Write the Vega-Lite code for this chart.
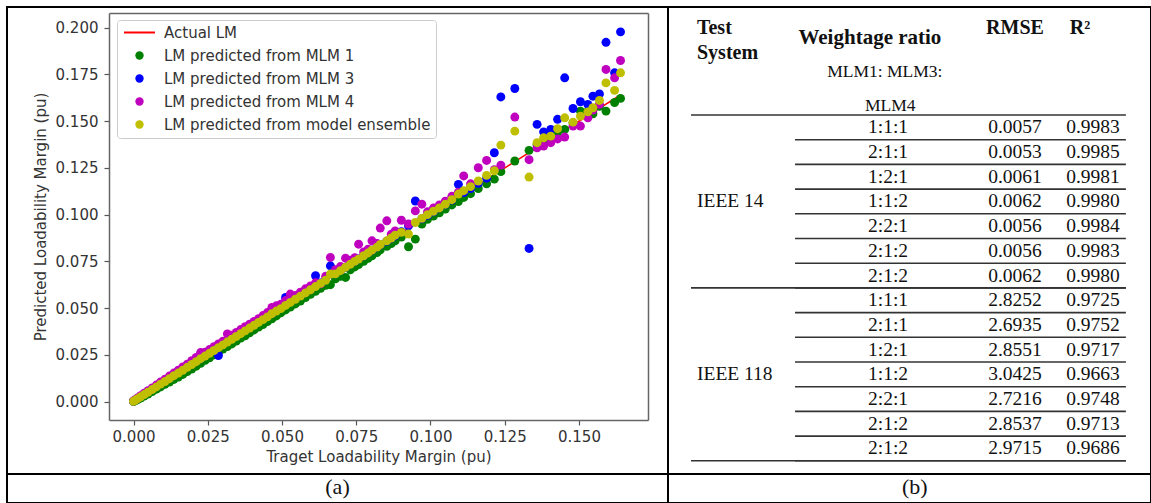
{
  "$schema": "https://vega.github.io/schema/vega-lite/v6.json",
  "background": "white",
  "padding": {"left": 6, "top": 6, "right": 0, "bottom": 0},
  "columns": 2,
  "spacing": 0,
  "bounds": "flush",
  "resolve": {"scale": {"color": "independent"}, "legend": {"color": "independent"}},
  "datasets": {
    "scatter": [
      {"target": 0.0000, "actual": 0.0000, "mlm1": 0.0000, "mlm3": 0.0002, "mlm4": 0.0003, "ensemble": 0.0001},
      {"target": 0.0006, "actual": 0.0006, "mlm1": 0.0004, "mlm3": 0.0008, "mlm4": 0.0010, "ensemble": 0.0007},
      {"target": 0.0014, "actual": 0.0014, "mlm1": 0.0010, "mlm3": 0.0016, "mlm4": 0.0019, "ensemble": 0.0015},
      {"target": 0.0024, "actual": 0.0024, "mlm1": 0.0018, "mlm3": 0.0027, "mlm4": 0.0031, "ensemble": 0.0025},
      {"target": 0.0036, "actual": 0.0036, "mlm1": 0.0029, "mlm3": 0.0039, "mlm4": 0.0044, "ensemble": 0.0037},
      {"target": 0.0049, "actual": 0.0049, "mlm1": 0.0040, "mlm3": 0.0052, "mlm4": 0.0058, "ensemble": 0.0050},
      {"target": 0.0063, "actual": 0.0063, "mlm1": 0.0053, "mlm3": 0.0066, "mlm4": 0.0073, "ensemble": 0.0064},
      {"target": 0.0077, "actual": 0.0077, "mlm1": 0.0066, "mlm3": 0.0080, "mlm4": 0.0088, "ensemble": 0.0078},
      {"target": 0.0091, "actual": 0.0091, "mlm1": 0.0078, "mlm3": 0.0095, "mlm4": 0.0104, "ensemble": 0.0093},
      {"target": 0.0106, "actual": 0.0106, "mlm1": 0.0092, "mlm3": 0.0110, "mlm4": 0.0119, "ensemble": 0.0107},
      {"target": 0.0121, "actual": 0.0121, "mlm1": 0.0104, "mlm3": 0.0125, "mlm4": 0.0136, "ensemble": 0.0122},
      {"target": 0.0136, "actual": 0.0136, "mlm1": 0.0118, "mlm3": 0.0140, "mlm4": 0.0152, "ensemble": 0.0138},
      {"target": 0.0151, "actual": 0.0151, "mlm1": 0.0131, "mlm3": 0.0156, "mlm4": 0.0168, "ensemble": 0.0152},
      {"target": 0.0166, "actual": 0.0166, "mlm1": 0.0145, "mlm3": 0.0170, "mlm4": 0.0185, "ensemble": 0.0167},
      {"target": 0.0181, "actual": 0.0181, "mlm1": 0.0160, "mlm3": 0.0186, "mlm4": 0.0200, "ensemble": 0.0183},
      {"target": 0.0196, "actual": 0.0196, "mlm1": 0.0174, "mlm3": 0.0201, "mlm4": 0.0218, "ensemble": 0.0198},
      {"target": 0.0211, "actual": 0.0211, "mlm1": 0.0189, "mlm3": 0.0216, "mlm4": 0.0236, "ensemble": 0.0213},
      {"target": 0.0226, "actual": 0.0226, "mlm1": 0.0204, "mlm3": 0.0230, "mlm4": 0.0262, "ensemble": 0.0229},
      {"target": 0.0241, "actual": 0.0241, "mlm1": 0.0220, "mlm3": 0.0246, "mlm4": 0.0264, "ensemble": 0.0243},
      {"target": 0.0256, "actual": 0.0256, "mlm1": 0.0234, "mlm3": 0.0261, "mlm4": 0.0278, "ensemble": 0.0258},
      {"target": 0.0271, "actual": 0.0271, "mlm1": 0.0250, "mlm3": 0.0276, "mlm4": 0.0293, "ensemble": 0.0273},
      {"target": 0.0286, "actual": 0.0286, "mlm1": 0.0265, "mlm3": 0.0246, "mlm4": 0.0308, "ensemble": 0.0288},
      {"target": 0.0301, "actual": 0.0301, "mlm1": 0.0281, "mlm3": 0.0306, "mlm4": 0.0322, "ensemble": 0.0303},
      {"target": 0.0316, "actual": 0.0316, "mlm1": 0.0294, "mlm3": 0.0320, "mlm4": 0.0362, "ensemble": 0.0318},
      {"target": 0.0331, "actual": 0.0331, "mlm1": 0.0308, "mlm3": 0.0336, "mlm4": 0.0355, "ensemble": 0.0333},
      {"target": 0.0346, "actual": 0.0346, "mlm1": 0.0323, "mlm3": 0.0351, "mlm4": 0.0370, "ensemble": 0.0348},
      {"target": 0.0361, "actual": 0.0361, "mlm1": 0.0339, "mlm3": 0.0366, "mlm4": 0.0385, "ensemble": 0.0363},
      {"target": 0.0376, "actual": 0.0376, "mlm1": 0.0352, "mlm3": 0.0381, "mlm4": 0.0400, "ensemble": 0.0378},
      {"target": 0.0391, "actual": 0.0391, "mlm1": 0.0368, "mlm3": 0.0396, "mlm4": 0.0414, "ensemble": 0.0393},
      {"target": 0.0406, "actual": 0.0406, "mlm1": 0.0383, "mlm3": 0.0411, "mlm4": 0.0428, "ensemble": 0.0408},
      {"target": 0.0421, "actual": 0.0421, "mlm1": 0.0398, "mlm3": 0.0426, "mlm4": 0.0443, "ensemble": 0.0423},
      {"target": 0.0436, "actual": 0.0436, "mlm1": 0.0412, "mlm3": 0.0441, "mlm4": 0.0460, "ensemble": 0.0438},
      {"target": 0.0451, "actual": 0.0451, "mlm1": 0.0428, "mlm3": 0.0456, "mlm4": 0.0476, "ensemble": 0.0453},
      {"target": 0.0466, "actual": 0.0466, "mlm1": 0.0443, "mlm3": 0.0471, "mlm4": 0.0503, "ensemble": 0.0470},
      {"target": 0.0481, "actual": 0.0481, "mlm1": 0.0458, "mlm3": 0.0486, "mlm4": 0.0512, "ensemble": 0.0484},
      {"target": 0.0496, "actual": 0.0496, "mlm1": 0.0474, "mlm3": 0.0501, "mlm4": 0.0520, "ensemble": 0.0497},
      {"target": 0.0512, "actual": 0.0512, "mlm1": 0.0490, "mlm3": 0.0557, "mlm4": 0.0540, "ensemble": 0.0514},
      {"target": 0.0528, "actual": 0.0528, "mlm1": 0.0505, "mlm3": 0.0534, "mlm4": 0.0575, "ensemble": 0.0530},
      {"target": 0.0545, "actual": 0.0545, "mlm1": 0.0522, "mlm3": 0.0550, "mlm4": 0.0568, "ensemble": 0.0547},
      {"target": 0.0562, "actual": 0.0562, "mlm1": 0.0538, "mlm3": 0.0566, "mlm4": 0.0585, "ensemble": 0.0564},
      {"target": 0.0579, "actual": 0.0579, "mlm1": 0.0556, "mlm3": 0.0583, "mlm4": 0.0603, "ensemble": 0.0581},
      {"target": 0.0596, "actual": 0.0596, "mlm1": 0.0574, "mlm3": 0.0600, "mlm4": 0.0618, "ensemble": 0.0598},
      {"target": 0.0613, "actual": 0.0613, "mlm1": 0.0590, "mlm3": 0.0673, "mlm4": 0.0635, "ensemble": 0.0615},
      {"target": 0.0630, "actual": 0.0630, "mlm1": 0.0606, "mlm3": 0.0634, "mlm4": 0.0630, "ensemble": 0.0632},
      {"target": 0.0647, "actual": 0.0647, "mlm1": 0.0622, "mlm3": 0.0651, "mlm4": 0.0670, "ensemble": 0.0649},
      {"target": 0.0663, "actual": 0.0663, "mlm1": 0.0625, "mlm3": 0.0726, "mlm4": 0.0771, "ensemble": 0.0682},
      {"target": 0.0680, "actual": 0.0680, "mlm1": 0.0657, "mlm3": 0.0684, "mlm4": 0.0705, "ensemble": 0.0683},
      {"target": 0.0697, "actual": 0.0697, "mlm1": 0.0670, "mlm3": 0.0701, "mlm4": 0.0722, "ensemble": 0.0700},
      {"target": 0.0714, "actual": 0.0714, "mlm1": 0.0664, "mlm3": 0.0718, "mlm4": 0.0767, "ensemble": 0.0718},
      {"target": 0.0730, "actual": 0.0730, "mlm1": 0.0705, "mlm3": 0.0735, "mlm4": 0.0756, "ensemble": 0.0734},
      {"target": 0.0745, "actual": 0.0745, "mlm1": 0.0720, "mlm3": 0.0750, "mlm4": 0.0770, "ensemble": 0.0750},
      {"target": 0.0758, "actual": 0.0758, "mlm1": 0.0733, "mlm3": 0.0763, "mlm4": 0.0842, "ensemble": 0.0762},
      {"target": 0.0775, "actual": 0.0775, "mlm1": 0.0750, "mlm3": 0.0780, "mlm4": 0.0800, "ensemble": 0.0780},
      {"target": 0.0790, "actual": 0.0790, "mlm1": 0.0766, "mlm3": 0.0796, "mlm4": 0.0815, "ensemble": 0.0795},
      {"target": 0.0803, "actual": 0.0803, "mlm1": 0.0780, "mlm3": 0.0809, "mlm4": 0.0860, "ensemble": 0.0810},
      {"target": 0.0820, "actual": 0.0820, "mlm1": 0.0797, "mlm3": 0.0826, "mlm4": 0.0846, "ensemble": 0.0826},
      {"target": 0.0831, "actual": 0.0831, "mlm1": 0.0812, "mlm3": 0.0838, "mlm4": 0.0928, "ensemble": 0.0840},
      {"target": 0.0853, "actual": 0.0853, "mlm1": 0.0830, "mlm3": 0.0858, "mlm4": 0.0967, "ensemble": 0.0860},
      {"target": 0.0868, "actual": 0.0868, "mlm1": 0.0845, "mlm3": 0.0873, "mlm4": 0.0895, "ensemble": 0.0875},
      {"target": 0.0881, "actual": 0.0881, "mlm1": 0.0860, "mlm3": 0.0886, "mlm4": 0.0913, "ensemble": 0.0890},
      {"target": 0.0902, "actual": 0.0902, "mlm1": 0.0880, "mlm3": 0.0908, "mlm4": 0.0970, "ensemble": 0.0905},
      {"target": 0.0926, "actual": 0.0926, "mlm1": 0.0828, "mlm3": 0.0940, "mlm4": 0.0950, "ensemble": 0.0896},
      {"target": 0.0949, "actual": 0.0949, "mlm1": 0.0869, "mlm3": 0.1073, "mlm4": 0.1020, "ensemble": 0.0958},
      {"target": 0.0971, "actual": 0.0971, "mlm1": 0.0950, "mlm3": 0.0978, "mlm4": 0.1056, "ensemble": 0.0980},
      {"target": 0.0990, "actual": 0.0990, "mlm1": 0.0975, "mlm3": 0.0996, "mlm4": 0.1015, "ensemble": 0.1000},
      {"target": 0.1010, "actual": 0.1010, "mlm1": 0.0992, "mlm3": 0.1015, "mlm4": 0.1035, "ensemble": 0.1018},
      {"target": 0.1030, "actual": 0.1030, "mlm1": 0.1010, "mlm3": 0.1036, "mlm4": 0.1052, "ensemble": 0.1036},
      {"target": 0.1050, "actual": 0.1050, "mlm1": 0.1030, "mlm3": 0.1055, "mlm4": 0.1072, "ensemble": 0.1056},
      {"target": 0.1072, "actual": 0.1072, "mlm1": 0.1052, "mlm3": 0.1078, "mlm4": 0.1098, "ensemble": 0.1080},
      {"target": 0.1094, "actual": 0.1094, "mlm1": 0.1070, "mlm3": 0.1162, "mlm4": 0.1120, "ensemble": 0.1110},
      {"target": 0.1112, "actual": 0.1112, "mlm1": 0.1092, "mlm3": 0.1118, "mlm4": 0.1207, "ensemble": 0.1128},
      {"target": 0.1135, "actual": 0.1135, "mlm1": 0.1112, "mlm3": 0.1140, "mlm4": 0.1165, "ensemble": 0.1150},
      {"target": 0.1161, "actual": 0.1161, "mlm1": 0.1140, "mlm3": 0.1168, "mlm4": 0.1251, "ensemble": 0.1180},
      {"target": 0.1189, "actual": 0.1189, "mlm1": 0.1165, "mlm3": 0.1195, "mlm4": 0.1290, "ensemble": 0.1210},
      {"target": 0.1215, "actual": 0.1215, "mlm1": 0.1190, "mlm3": 0.1331, "mlm4": 0.1240, "ensemble": 0.1235},
      {"target": 0.1237, "actual": 0.1237, "mlm1": 0.1230, "mlm3": 0.1630, "mlm4": 0.1265, "ensemble": 0.1372},
      {"target": 0.1284, "actual": 0.1284, "mlm1": 0.1287, "mlm3": 0.1675, "mlm4": 0.1522, "ensemble": 0.1447},
      {"target": 0.1332, "actual": 0.1332, "mlm1": 0.1344, "mlm3": 0.0819, "mlm4": 0.1294, "ensemble": 0.1201},
      {"target": 0.1359, "actual": 0.1359, "mlm1": 0.1375, "mlm3": 0.1483, "mlm4": 0.1358, "ensemble": 0.1385},
      {"target": 0.1381, "actual": 0.1381, "mlm1": 0.1395, "mlm3": 0.1443, "mlm4": 0.1367, "ensemble": 0.1411},
      {"target": 0.1405, "actual": 0.1405, "mlm1": 0.1410, "mlm3": 0.1456, "mlm4": 0.1385, "ensemble": 0.1420},
      {"target": 0.1428, "actual": 0.1428, "mlm1": 0.1440, "mlm3": 0.1510, "mlm4": 0.1405, "ensemble": 0.1460},
      {"target": 0.1452, "actual": 0.1452, "mlm1": 0.1456, "mlm3": 0.1732, "mlm4": 0.1415, "ensemble": 0.1518},
      {"target": 0.1480, "actual": 0.1480, "mlm1": 0.1490, "mlm3": 0.1568, "mlm4": 0.1474, "ensemble": 0.1495},
      {"target": 0.1505, "actual": 0.1505, "mlm1": 0.1554, "mlm3": 0.1604, "mlm4": 0.1474, "ensemble": 0.1527},
      {"target": 0.1530, "actual": 0.1530, "mlm1": 0.1554, "mlm3": 0.1590, "mlm4": 0.1518, "ensemble": 0.1550},
      {"target": 0.1547, "actual": 0.1547, "mlm1": 0.1540, "mlm3": 0.1634, "mlm4": 0.1560, "ensemble": 0.1572},
      {"target": 0.1569, "actual": 0.1569, "mlm1": 0.1580, "mlm3": 0.1646, "mlm4": 0.1590, "ensemble": 0.1611},
      {"target": 0.1591, "actual": 0.1591, "mlm1": 0.1554, "mlm3": 0.1922, "mlm4": 0.1777, "ensemble": 0.1705},
      {"target": 0.1620, "actual": 0.1620, "mlm1": 0.1600, "mlm3": 0.1759, "mlm4": 0.1732, "ensemble": 0.1665},
      {"target": 0.1640, "actual": 0.1640, "mlm1": 0.1622, "mlm3": 0.1978, "mlm4": 0.1825, "ensemble": 0.1759}
    ],
    "table": [
      {"row": 0, "system": "IEEE 14", "ratio": "1:1:1", "rmse": 0.0057, "r2": 0.9983},
      {"row": 1, "system": "IEEE 14", "ratio": "2:1:1", "rmse": 0.0053, "r2": 0.9985},
      {"row": 2, "system": "IEEE 14", "ratio": "1:2:1", "rmse": 0.0061, "r2": 0.9981},
      {"row": 3, "system": "IEEE 14", "ratio": "1:1:2", "rmse": 0.0062, "r2": 0.9980},
      {"row": 4, "system": "IEEE 14", "ratio": "2:2:1", "rmse": 0.0056, "r2": 0.9984},
      {"row": 5, "system": "IEEE 14", "ratio": "2:1:2", "rmse": 0.0056, "r2": 0.9983},
      {"row": 6, "system": "IEEE 14", "ratio": "2:1:2", "rmse": 0.0062, "r2": 0.9980},
      {"row": 7, "system": "IEEE 118", "ratio": "1:1:1", "rmse": 2.8252, "r2": 0.9725},
      {"row": 8, "system": "IEEE 118", "ratio": "2:1:1", "rmse": 2.6935, "r2": 0.9752},
      {"row": 9, "system": "IEEE 118", "ratio": "1:2:1", "rmse": 2.8551, "r2": 0.9717},
      {"row": 10, "system": "IEEE 118", "ratio": "1:1:2", "rmse": 3.0425, "r2": 0.9663},
      {"row": 11, "system": "IEEE 118", "ratio": "2:2:1", "rmse": 2.7216, "r2": 0.9748},
      {"row": 12, "system": "IEEE 118", "ratio": "2:1:2", "rmse": 2.8537, "r2": 0.9713},
      {"row": 13, "system": "IEEE 118", "ratio": "2:1:2", "rmse": 2.9715, "r2": 0.9686}
    ]
  },
  "concat": [
    {
      "width": 661,
      "height": 467,
      "view": {"stroke": "black", "strokeWidth": 2},
      "data": {"name": "scatter"},
      "resolve": {"axis": {"x": "independent", "y": "independent"}},
      "layer": [
        {
          "mark": {"type": "line", "strokeWidth": 1.6},
          "encoding": {
            "x": {
              "field": "target", "type": "quantitative",
              "title": "Traget Loadability Margin (pu)",
              "scale": {"domain": [-0.00825, 0.17325], "range": [102, 641], "nice": false, "zero": false},
              "axis": {"orient": "bottom", "offset": -54, "values": [0, 0.025, 0.05, 0.075, 0.1, 0.125, 0.15], "format": ".3f", "labelPadding": 4, "titlePadding": 5, "domain": true}
            },
            "y": {
              "field": "actual", "type": "quantitative",
              "title": "Predicted Loadability Margin (pu)",
              "scale": {"domain": [-0.0099, 0.2079], "range": [413, 6], "nice": false, "zero": false},
              "axis": {"orient": "left", "offset": -102, "values": [0, 0.025, 0.05, 0.075, 0.1, 0.125, 0.15, 0.175, 0.2], "format": ".3f", "labelPadding": 6, "titlePadding": 7, "domain": true}
            },
            "color": {
              "datum": "Actual LM",
              "scale": {
                "domain": ["Actual LM", "LM predicted from MLM 1", "LM predicted from MLM 3", "LM predicted from MLM 4", "LM predicted from model ensemble"],
                "range": ["#ff0000", "#008000", "#0000ff", "#bf00bf", "#bfbf00"]
              },
              "legend": {
                "orient": "none", "legendX": 110, "legendY": 13, "title": null,
                "padding": 5, "symbolOffset": 10, "labelOffset": 17, "symbolSize": 70, "rowPadding": 7,
                "labelFont": "DejaVu Sans", "labelFontSize": 15, "labelColor": "#333333", "labelLimit": 500,
                "fillColor": "rgba(255,255,255,0.85)", "strokeColor": "#cccccc", "cornerRadius": 3,
                "encode": {
                  "symbols": {
                    "update": {
                      "shape": {"signal": "datum.value === 'Actual LM' ? 'stroke' : 'circle'"},
                      "size": {"signal": "datum.value === 'Actual LM' ? 961 : 70"},
                      "stroke": {"signal": "datum.value === 'Actual LM' ? '#ff0000' : 'transparent'"},
                      "strokeWidth": {"signal": "datum.value === 'Actual LM' ? 2 : 0"},
                      "opacity": {"value": 1}
                    }
                  }
                }
              }
            }
          }
        },
        {
          "mark": {"type": "point", "filled": true, "size": 80, "opacity": 1},
          "encoding": {
            "x": {"field": "target", "type": "quantitative", "axis": {"orient": "top", "offset": -6, "domain": true, "ticks": false, "labels": false, "title": null}},
            "y": {"field": "mlm1", "type": "quantitative", "axis": {"orient": "right", "offset": -20, "domain": true, "ticks": false, "labels": false, "title": null}},
            "color": {"datum": "LM predicted from MLM 1"}
          }
        },
        {
          "mark": {"type": "point", "filled": true, "size": 80, "opacity": 1},
          "encoding": {
            "x": {"field": "target", "type": "quantitative", "axis": null},
            "y": {"field": "mlm3", "type": "quantitative", "axis": null},
            "color": {"datum": "LM predicted from MLM 3"}
          }
        },
        {
          "mark": {"type": "point", "filled": true, "size": 80, "opacity": 1},
          "encoding": {
            "x": {"field": "target", "type": "quantitative", "axis": null},
            "y": {"field": "mlm4", "type": "quantitative", "axis": null},
            "color": {"datum": "LM predicted from MLM 4"}
          }
        },
        {
          "mark": {"type": "point", "filled": true, "size": 80, "opacity": 1},
          "encoding": {
            "x": {"field": "target", "type": "quantitative", "axis": null},
            "y": {"field": "ensemble", "type": "quantitative", "axis": null},
            "color": {"datum": "LM predicted from model ensemble"}
          }
        }
      ]
    },
    {
      "width": 483,
      "height": 467,
      "view": {"stroke": "black", "strokeWidth": 2},
      "data": {"name": "table"},
      "layer": [
        {
          "mark": {"type": "rule", "yOffset": 12.35, "stroke": "#333333", "strokeWidth": 1.6},
          "encoding": {
            "x": {"datum": 26.3, "type": "quantitative", "scale": {"domain": [0, 100], "nice": false, "zero": false}, "axis": null},
            "x2": {"datum": 94.8},
            "y": {"field": "row", "type": "quantitative", "scale": {"domain": [-4.8725, 14.034], "reverse": true, "nice": false, "zero": false}, "axis": null}
          }
        },
        {
          "transform": [{"aggregate": [{"op": "max", "field": "row", "as": "last"}], "groupby": ["system"]}],
          "mark": {"type": "rule", "yOffset": 12.35, "stroke": "#333333", "strokeWidth": 1.6},
          "encoding": {
            "x": {"datum": 4.76, "type": "quantitative", "scale": {"domain": [0, 100], "nice": false, "zero": false}, "axis": null},
            "x2": {"datum": 94.8},
            "y": {"field": "last", "type": "quantitative", "scale": {"domain": [-4.8725, 14.034], "reverse": true, "nice": false, "zero": false}, "axis": null}
          }
        },
        {
          "data": {"values": [{}]},
          "mark": {"type": "rule", "stroke": "#333333", "strokeWidth": 1.6},
          "encoding": {
            "x": {"datum": 4.76, "type": "quantitative", "scale": {"domain": [0, 100], "nice": false, "zero": false}, "axis": null},
            "x2": {"datum": 94.8},
            "y": {"datum": -0.5, "type": "quantitative", "scale": {"domain": [-4.8725, 14.034], "reverse": true, "nice": false, "zero": false}, "axis": null}
          }
        },
        {
          "mark": {"type": "text", "font": "Liberation Serif", "fontSize": 19.5, "color": "#111111", "align": "center", "baseline": "middle"},
          "encoding": {
            "x": {"datum": 45.55, "type": "quantitative", "scale": {"domain": [0, 100], "nice": false, "zero": false}, "axis": null},
            "y": {"field": "row", "type": "quantitative", "scale": {"domain": [-4.8725, 14.034], "reverse": true, "nice": false, "zero": false}, "axis": null},
            "text": {"field": "ratio", "type": "nominal"}
          }
        },
        {
          "mark": {"type": "text", "font": "Liberation Serif", "fontSize": 19.5, "color": "#111111", "align": "center", "baseline": "middle"},
          "encoding": {
            "x": {"datum": 71.84, "type": "quantitative", "scale": {"domain": [0, 100], "nice": false, "zero": false}, "axis": null},
            "y": {"field": "row", "type": "quantitative", "scale": {"domain": [-4.8725, 14.034], "reverse": true, "nice": false, "zero": false}, "axis": null},
            "text": {"field": "rmse", "type": "quantitative", "format": ".4f"}
          }
        },
        {
          "mark": {"type": "text", "font": "Liberation Serif", "fontSize": 19.5, "color": "#111111", "align": "center", "baseline": "middle"},
          "encoding": {
            "x": {"datum": 88.0, "type": "quantitative", "scale": {"domain": [0, 100], "nice": false, "zero": false}, "axis": null},
            "y": {"field": "row", "type": "quantitative", "scale": {"domain": [-4.8725, 14.034], "reverse": true, "nice": false, "zero": false}, "axis": null},
            "text": {"field": "r2", "type": "quantitative", "format": ".4f"}
          }
        },
        {
          "transform": [{"aggregate": [{"op": "mean", "field": "row", "as": "mid"}], "groupby": ["system"]}],
          "mark": {"type": "text", "font": "Liberation Serif", "fontSize": 19.5, "color": "#111111", "align": "left", "baseline": "middle"},
          "encoding": {
            "x": {"datum": 6.0, "type": "quantitative", "scale": {"domain": [0, 100], "nice": false, "zero": false}, "axis": null},
            "y": {"field": "mid", "type": "quantitative", "scale": {"domain": [-4.8725, 14.034], "reverse": true, "nice": false, "zero": false}, "axis": null},
            "text": {"field": "system", "type": "nominal"}
          }
        },
        {
          "data": {"values": [{}]},
          "mark": {"type": "text", "font": "Liberation Serif", "fontSize": 20, "fontWeight": "bold", "color": "#111111", "align": "left", "baseline": "middle"},
          "encoding": {
            "x": {"datum": 6.0, "type": "quantitative", "scale": {"domain": [0, 100], "nice": false, "zero": false}, "axis": null},
            "y": {"datum": -4.02, "type": "quantitative", "scale": {"domain": [-4.8725, 14.034], "reverse": true, "nice": false, "zero": false}, "axis": null},
            "text": {"value": "Test"}
          }
        },
        {
          "data": {"values": [{}]},
          "mark": {"type": "text", "font": "Liberation Serif", "fontSize": 20, "fontWeight": "bold", "color": "#111111", "align": "left", "baseline": "middle"},
          "encoding": {
            "x": {"datum": 6.0, "type": "quantitative", "scale": {"domain": [0, 100], "nice": false, "zero": false}, "axis": null},
            "y": {"datum": -3.01, "type": "quantitative", "scale": {"domain": [-4.8725, 14.034], "reverse": true, "nice": false, "zero": false}, "axis": null},
            "text": {"value": "System"}
          }
        },
        {
          "data": {"values": [{}]},
          "mark": {"type": "text", "font": "Liberation Serif", "fontSize": 21, "fontWeight": "bold", "color": "#111111", "align": "center", "baseline": "middle"},
          "encoding": {
            "x": {"datum": 41.8, "type": "quantitative", "scale": {"domain": [0, 100], "nice": false, "zero": false}, "axis": null},
            "y": {"datum": -3.63, "type": "quantitative", "scale": {"domain": [-4.8725, 14.034], "reverse": true, "nice": false, "zero": false}, "axis": null},
            "text": {"value": "Weightage ratio"}
          }
        },
        {
          "data": {"values": [{}]},
          "mark": {"type": "text", "font": "Liberation Serif", "fontSize": 17.5, "color": "#111111", "align": "center", "baseline": "middle"},
          "encoding": {
            "x": {"datum": 44.9, "type": "quantitative", "scale": {"domain": [0, 100], "nice": false, "zero": false}, "axis": null},
            "y": {"datum": -2.24, "type": "quantitative", "scale": {"domain": [-4.8725, 14.034], "reverse": true, "nice": false, "zero": false}, "axis": null},
            "text": {"value": "MLM1: MLM3:"}
          }
        },
        {
          "data": {"values": [{}]},
          "mark": {"type": "text", "font": "Liberation Serif", "fontSize": 17.5, "color": "#111111", "align": "center", "baseline": "middle"},
          "encoding": {
            "x": {"datum": 46.0, "type": "quantitative", "scale": {"domain": [0, 100], "nice": false, "zero": false}, "axis": null},
            "y": {"datum": -0.86, "type": "quantitative", "scale": {"domain": [-4.8725, 14.034], "reverse": true, "nice": false, "zero": false}, "axis": null},
            "text": {"value": "MLM4"}
          }
        },
        {
          "data": {"values": [{}]},
          "mark": {"type": "text", "font": "Liberation Serif", "fontSize": 20, "fontWeight": "bold", "color": "#111111", "align": "center", "baseline": "middle"},
          "encoding": {
            "x": {"datum": 71.84, "type": "quantitative", "scale": {"domain": [0, 100], "nice": false, "zero": false}, "axis": null},
            "y": {"datum": -4.02, "type": "quantitative", "scale": {"domain": [-4.8725, 14.034], "reverse": true, "nice": false, "zero": false}, "axis": null},
            "text": {"value": "RMSE"}
          }
        },
        {
          "data": {"values": [{}]},
          "mark": {"type": "text", "font": "Liberation Serif", "fontSize": 20, "fontWeight": "bold", "color": "#111111", "align": "center", "baseline": "middle"},
          "encoding": {
            "x": {"datum": 85.3, "type": "quantitative", "scale": {"domain": [0, 100], "nice": false, "zero": false}, "axis": null},
            "y": {"datum": -4.02, "type": "quantitative", "scale": {"domain": [-4.8725, 14.034], "reverse": true, "nice": false, "zero": false}, "axis": null},
            "text": {"value": "R²"}
          }
        }
      ]
    },
    {
      "width": 661,
      "height": 29,
      "view": {"stroke": "black", "strokeWidth": 2},
      "data": {"values": [{}]},
      "mark": {"type": "text", "font": "Liberation Serif", "fontSize": 22, "color": "#111111", "align": "center", "baseline": "middle"},
      "encoding": {
        "x": {"datum": 0.5, "type": "quantitative", "scale": {"domain": [0, 1]}, "axis": null},
        "y": {"datum": 0.55, "type": "quantitative", "scale": {"domain": [0, 1]}, "axis": null},
        "text": {"value": "(a)"}
      }
    },
    {
      "width": 483,
      "height": 29,
      "view": {"stroke": "black", "strokeWidth": 2},
      "data": {"values": [{}]},
      "mark": {"type": "text", "font": "Liberation Serif", "fontSize": 22, "color": "#111111", "align": "center", "baseline": "middle"},
      "encoding": {
        "x": {"datum": 0.511, "type": "quantitative", "scale": {"domain": [0, 1]}, "axis": null},
        "y": {"datum": 0.55, "type": "quantitative", "scale": {"domain": [0, 1]}, "axis": null},
        "text": {"value": "(b)"}
      }
    }
  ],
  "config": {
    "view": {"stroke": null},
    "axis": {
      "grid": false, "domain": false, "domainColor": "#666666", "domainWidth": 1.5,
      "labelFont": "DejaVu Sans", "labelFontSize": 15, "labelColor": "#333333",
      "titleFont": "DejaVu Sans", "titleFontSize": 15, "titleFontWeight": "normal", "titleColor": "#333333",
      "tickColor": "#555555", "tickWidth": 1.2, "tickSize": 5,
      "labelFlush": false, "labelOverlap": false
    }
  }
}
